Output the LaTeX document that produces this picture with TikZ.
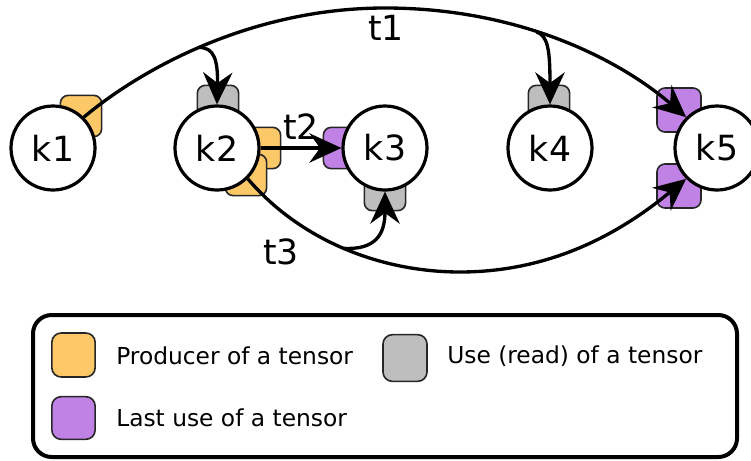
\documentclass[tikz,border=0pt]{standalone}
\usepackage{fontspec}
\setmainfont{DejaVu Sans}
\usepackage{xcolor}
\usetikzlibrary{arrows.meta}
\usetikzlibrary{shapes}

\definecolor{prodcol}{RGB}{252,200,104}
\definecolor{usecol}{RGB}{190,190,190}
\definecolor{lastcol}{RGB}{193,130,230}

\begin{document}
\begin{tikzpicture}[x=0.75pt,y=-0.75pt,
    kernel/.style={circle,draw,fill=white,line width=2.4pt,minimum size=63pt,inner sep=0pt,font=\fontsize{26}{30}\selectfont},
    tab/.style={draw=black!85,line width=1.2pt,rounded corners=6pt,minimum size=31pt,inner sep=0pt},
    prodtab/.style={tab,fill=prodcol},
    usetab/.style={tab,fill=usecol},
    lasttab/.style={tab,fill=lastcol},
    flow/.style={line width=2.5pt,-{Stealth[length=24pt,width=22pt,inset=8pt]}},
    tlabel/.style={font=\fontsize{26}{30}\selectfont},
    legtext/.style={anchor=west,inner sep=0pt,font=\fontsize{17.5}{20}\selectfont}]

    \useasboundingbox (0,0) rectangle (751,461);

    %===========================
    % Tabs
    %===========================
    \draw node (p1) at (81,116) [prodtab]{};
    \draw node (u2) at (218,106) [usetab]{};
    \draw node (p2a) at (260,148) [prodtab]{};
    \draw node (p2b) at (246,175) [prodtab]{};
    \draw node (l3) at (344,148) [lasttab]{};
    \draw node (u3) at (385,190) [usetab]{};
    \draw node (u4) at (549,106) [usetab]{};
    \draw node (l5a) at (679,110) [lasttab,minimum size=33pt]{};
    \draw node (l5b) at (679,186) [lasttab,minimum size=33pt]{};

    %===========================
    % Kernels
    %===========================
    \draw node (k1) at (53,148) [kernel]{k1};
    \draw node (k2) at (217,148) [kernel]{k2};
    \draw node (k3) at (385,148) [kernel]{k3};
    \draw node (k4) at (550,148) [kernel]{k4};
    \draw node (k5) at (717,148) [kernel]{k5};

    %===========================
    % Tensors
    %===========================
    % t1
    \draw[flow] (k1.45) .. controls (140,70) and (250,8) .. (385,8) coordinate[pos=0.48] (b2)
        .. controls (520,8) and (620,60) .. (k5.135) coordinate[pos=0.42] (b4);
    \draw[flow] (b2) .. controls (214,47) and (218,60) .. (k2.north);
    \draw[flow] (b4) .. controls (548,36) and (550,50) .. (k4.north);
    \node (lt1) at (386,28) [tlabel]{t1};

    % t2
    \draw[flow] (k2.east) -- (k3.west);
    \node (lt2) at (301,127) [tlabel]{t2};

    % t3
    \draw[flow] (k2.-45) .. controls (300,240) and (380,272) .. (460,272) coordinate[pos=0.5] (b3)
        .. controls (560,272) and (630,225) .. (k5.-135);
    \draw[flow] (b3) .. controls (375,250) and (385,235) .. (k3.south);
    \node (lt3) at (281,252) [tlabel]{t3};

    %===========================
    % Legend
    %===========================
    \draw node (legend) at (385,386) [draw,line width=3pt,rounded corners=14pt,minimum width=528pt,minimum height=106.5pt]{};

    \draw node (sp) at (73.5,355) [prodtab,minimum width=32.5pt,minimum height=33pt,rounded corners=7pt]{};
    \node (tp) at (116,356) [legtext]{Producer of a tensor};
    \draw node (su) at (405,358) [usetab,minimum width=33pt,minimum height=35pt,rounded corners=7pt]{};
    \node (tu) at (447,356) [legtext]{Use (read) of a tensor};
    \draw node (sl) at (73.5,418) [lasttab,minimum width=32.5pt,minimum height=32pt,rounded corners=7pt]{};
    \node (tl) at (116,418) [legtext]{Last use of a tensor};
\end{tikzpicture}
\end{document}
